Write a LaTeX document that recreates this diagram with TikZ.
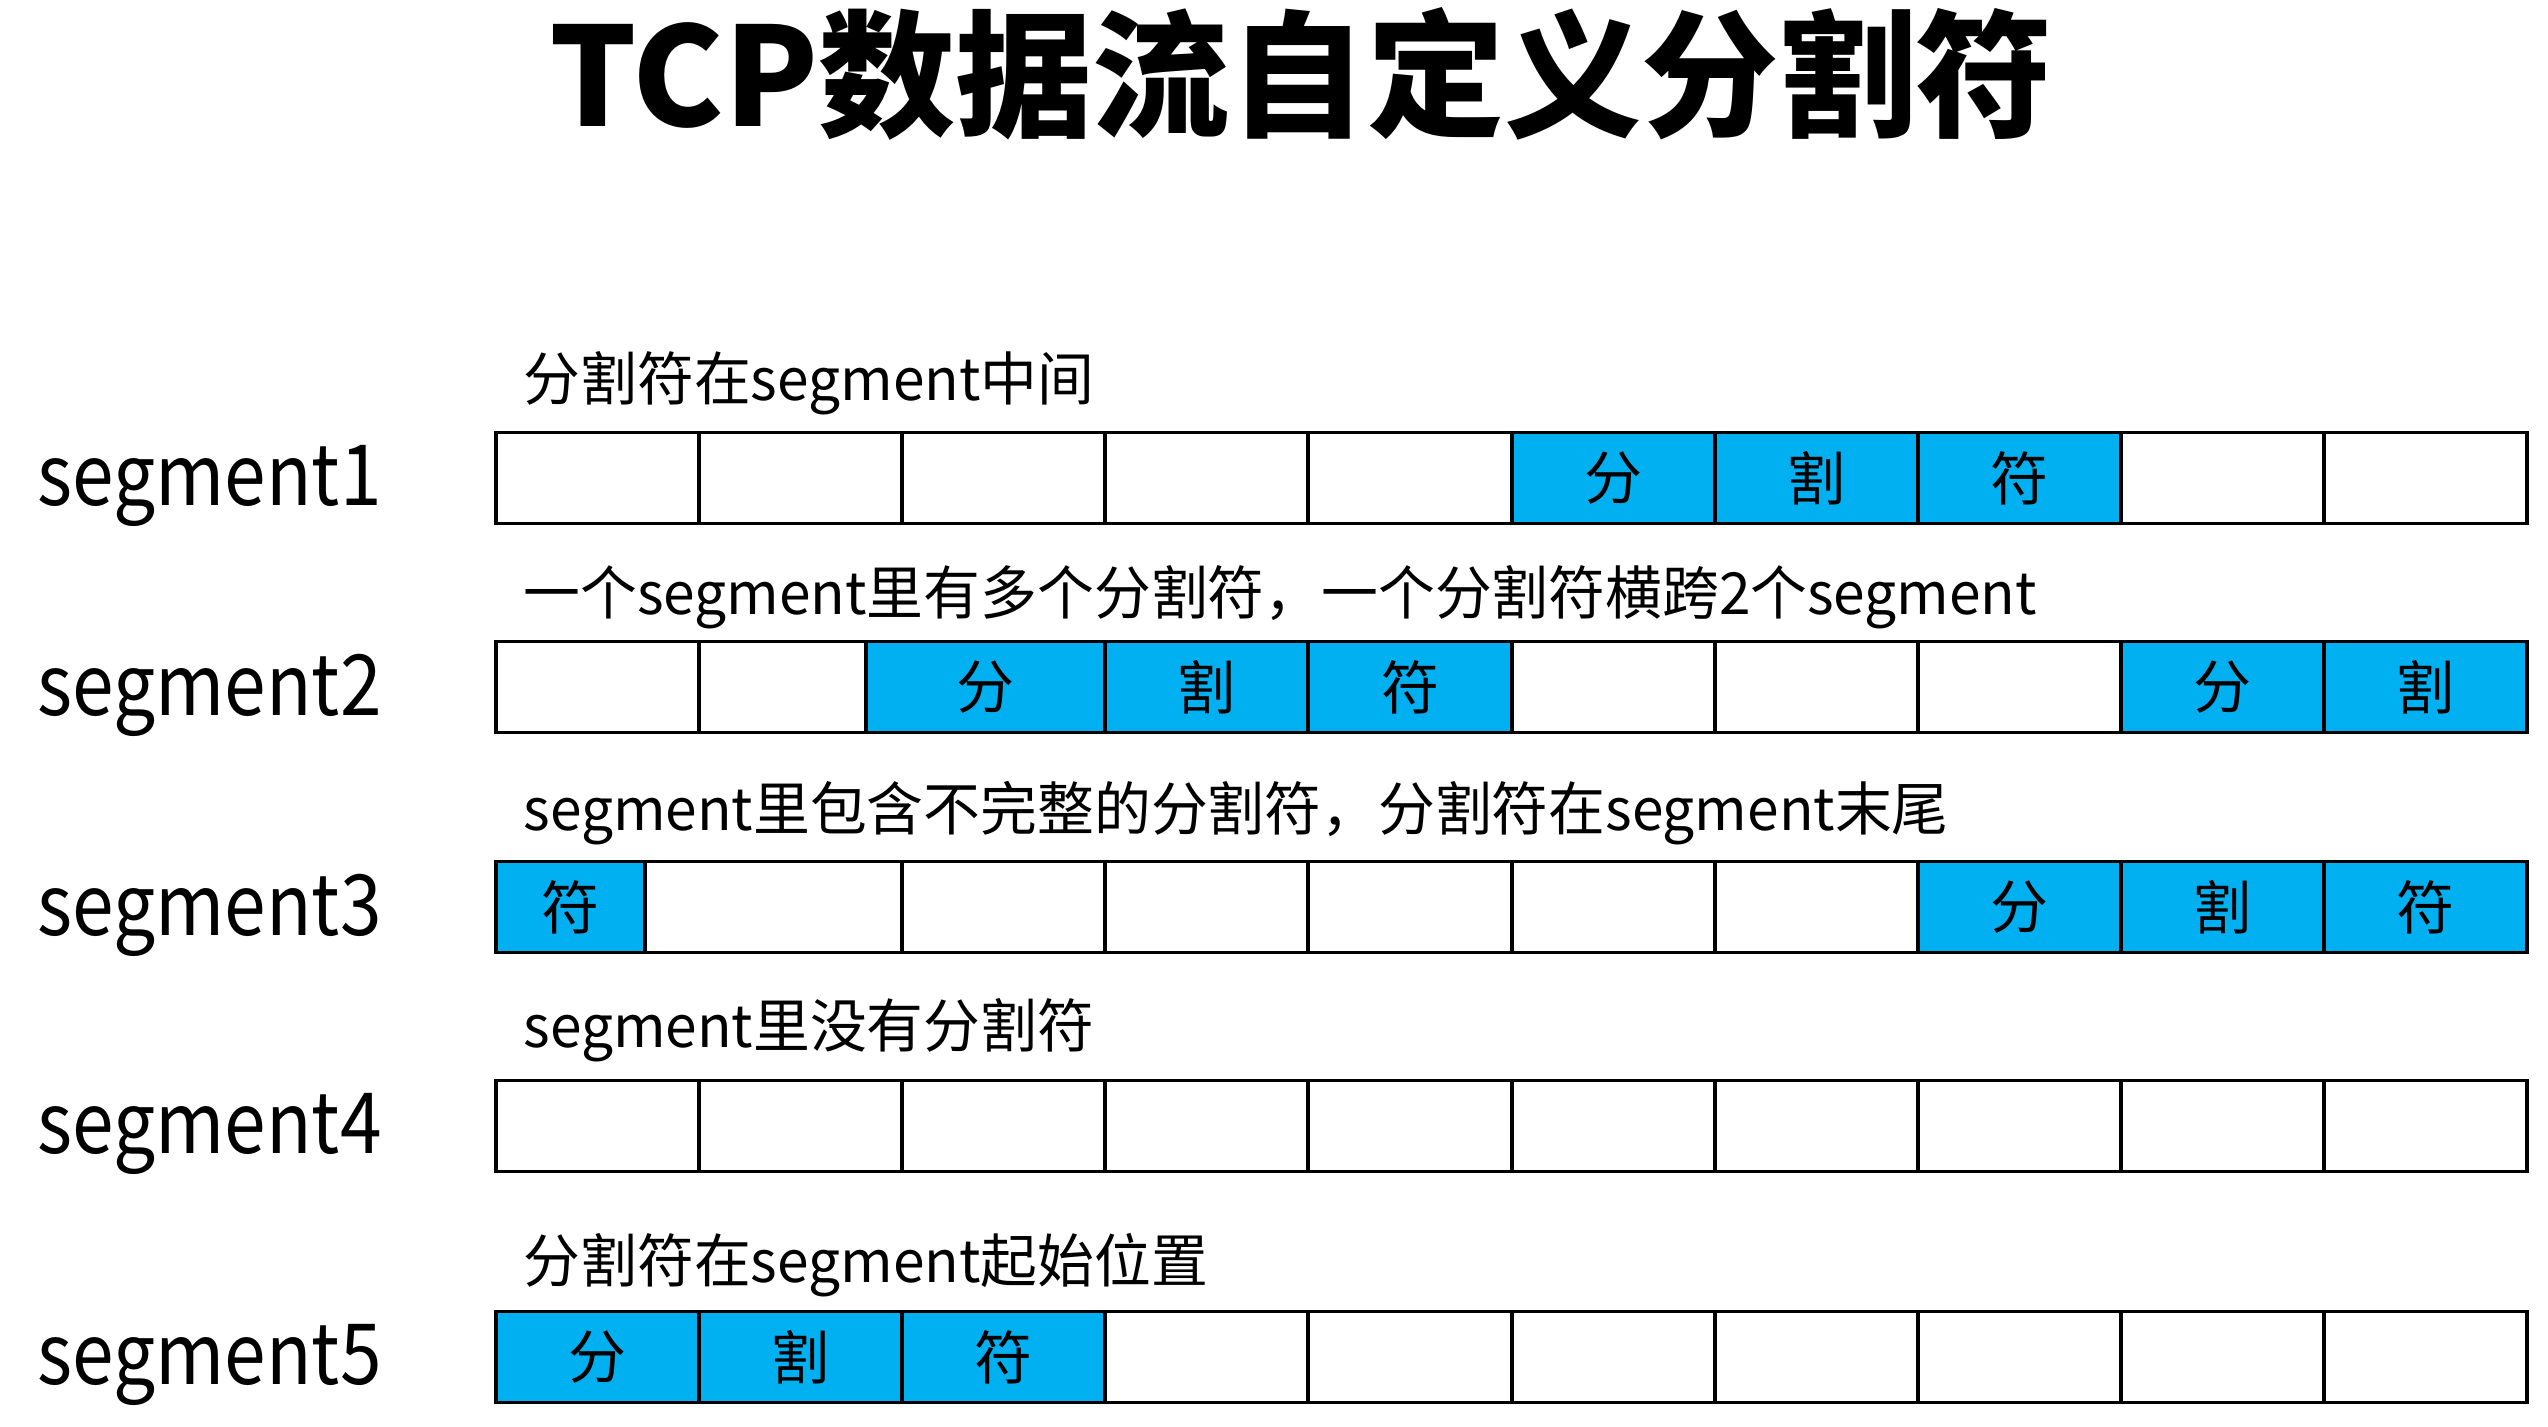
\documentclass[tikz,border=0pt]{standalone}
\usepackage{graphicx}
\usepackage{fontspec}
\setmainfont{Noto Sans CJK SC}
\definecolor{segblue}{HTML}{00B0F0}
\tikzset{
  cellbox/.style={draw=black, line width=1.1pt, inner sep=0pt, minimum height=0.91cm, font=\fontsize{16.5pt}{18pt}\selectfont},
  seglabel/.style={anchor=west, inner sep=0pt, font=\fontsize{24pt}{28pt}\selectfont},
  subtitle/.style={anchor=west, inner sep=0pt, font=\fontsize{16.5pt}{20pt}\selectfont},
  titletext/.style={inner sep=0pt, font=\fontsize{39pt}{46pt}\selectfont\bfseries}
}
\newcommand\segcell[6]{\node[cellbox, fill=#5, minimum width={(#3-#2)*0.01cm}] (#1) at ({(#2+#3)/2},#4) {#6};}
\newcommand\labtxt[1]{\scalebox{0.886}[1]{#1}}
\newcommand\subtxt[1]{\scalebox{0.979}[1]{#1}}
\begin{document}
\begin{tikzpicture}[x=0.01cm, y=-0.01cm]
\useasboundingbox[fill=white] (0,0) rectangle (2548,1426);
\node[titletext] (title) at (1301,74) {TCP数据流自定义分割符};
% row 1
\node[seglabel] (lab1) at (37,486) {\labtxt{segment1}};
\node[subtitle] (sub1) at (523,383) {\subtxt{分割符在segment中间}};
\segcell{a1}{496}{699}{478}{white}{}
\segcell{a2}{699}{902}{478}{white}{}
\segcell{a3}{902}{1105}{478}{white}{}
\segcell{a4}{1105}{1308}{478}{white}{}
\segcell{a5}{1308}{1512}{478}{white}{}
\segcell{a6}{1512}{1715}{478}{segblue}{分}
\segcell{a7}{1715}{1918}{478}{segblue}{割}
\segcell{a8}{1918}{2121}{478}{segblue}{符}
\segcell{a9}{2121}{2324}{478}{white}{}
\segcell{a10}{2324}{2527}{478}{white}{}
% row 2
\node[seglabel] (lab2) at (37,695) {\labtxt{segment2}};
\node[subtitle] (sub2) at (523,597) {\subtxt{一个segment里有多个分割符，一个分割符横跨2个segment}};
\segcell{b1}{496}{699}{687}{white}{}
\segcell{b2}{699}{866}{687}{white}{}
\segcell{b3}{866}{1105}{687}{segblue}{分}
\segcell{b4}{1105}{1308}{687}{segblue}{割}
\segcell{b5}{1308}{1512}{687}{segblue}{符}
\segcell{b6}{1512}{1715}{687}{white}{}
\segcell{b7}{1715}{1918}{687}{white}{}
\segcell{b8}{1918}{2121}{687}{white}{}
\segcell{b9}{2121}{2324}{687}{segblue}{分}
\segcell{b10}{2324}{2527}{687}{segblue}{割}
% row 3
\node[seglabel] (lab3) at (37,915) {\labtxt{segment3}};
\node[subtitle] (sub3) at (523,813) {\subtxt{segment里包含不完整的分割符，分割符在segment末尾}};
\segcell{c1}{496}{645}{907}{segblue}{符}
\segcell{c2}{645}{902}{907}{white}{}
\segcell{c3}{902}{1105}{907}{white}{}
\segcell{c4}{1105}{1308}{907}{white}{}
\segcell{c5}{1308}{1512}{907}{white}{}
\segcell{c6}{1512}{1715}{907}{white}{}
\segcell{c7}{1715}{1918}{907}{white}{}
\segcell{c8}{1918}{2121}{907}{segblue}{分}
\segcell{c9}{2121}{2324}{907}{segblue}{割}
\segcell{c10}{2324}{2527}{907}{segblue}{符}
% row 4
\node[seglabel] (lab4) at (37,1134) {\labtxt{segment4}};
\node[subtitle] (sub4) at (523,1030) {\subtxt{segment里没有分割符}};
\segcell{d1}{496}{699}{1126}{white}{}
\segcell{d2}{699}{902}{1126}{white}{}
\segcell{d3}{902}{1105}{1126}{white}{}
\segcell{d4}{1105}{1308}{1126}{white}{}
\segcell{d5}{1308}{1512}{1126}{white}{}
\segcell{d6}{1512}{1715}{1126}{white}{}
\segcell{d7}{1715}{1918}{1126}{white}{}
\segcell{d8}{1918}{2121}{1126}{white}{}
\segcell{d9}{2121}{2324}{1126}{white}{}
\segcell{d10}{2324}{2527}{1126}{white}{}
% row 5
\node[seglabel] (lab5) at (37,1365) {\labtxt{segment5}};
\node[subtitle] (sub5) at (523,1265) {\subtxt{分割符在segment起始位置}};
\segcell{e1}{496}{699}{1357}{segblue}{分}
\segcell{e2}{699}{902}{1357}{segblue}{割}
\segcell{e3}{902}{1105}{1357}{segblue}{符}
\segcell{e4}{1105}{1308}{1357}{white}{}
\segcell{e5}{1308}{1512}{1357}{white}{}
\segcell{e6}{1512}{1715}{1357}{white}{}
\segcell{e7}{1715}{1918}{1357}{white}{}
\segcell{e8}{1918}{2121}{1357}{white}{}
\segcell{e9}{2121}{2324}{1357}{white}{}
\segcell{e10}{2324}{2527}{1357}{white}{}
\end{tikzpicture}
\end{document}
